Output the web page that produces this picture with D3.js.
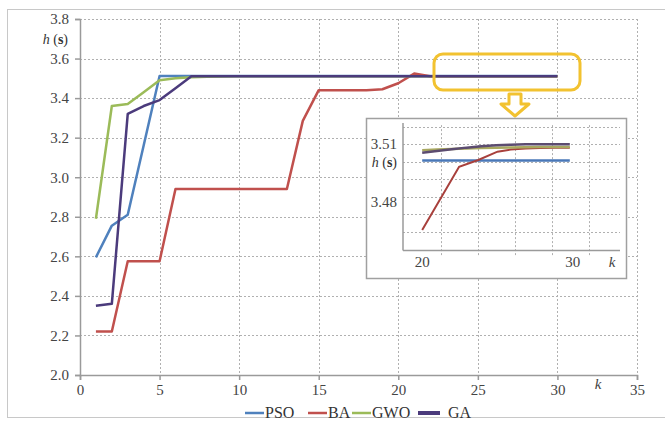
<!DOCTYPE html>
<html>
<head>
<meta charset="utf-8">
<script src="https://cdn.jsdelivr.net/npm/d3@7"></script>
<style>
  body { margin: 0; background: #fff; }
  svg { display: block; }
</style>
</head>
<body>
<div id="chart"></div>
<script>
// iterations k and convergence values h(s) per algorithm
var kValues = [1, 2, 3, 4, 5, 6, 7, 8, 9, 10, 11, 12, 13, 14, 15, 16, 17, 18, 19, 20, 21, 22, 23, 24, 25, 26, 27, 28, 29, 30];
var psoValues = [2.595, 2.755, 2.81, 3.16, 3.512, 3.512, 3.512, 3.512, 3.512, 3.512, 3.512, 3.512, 3.512, 3.512, 3.512, 3.512, 3.512, 3.512, 3.512, 3.512, 3.512, 3.512, 3.512, 3.512, 3.512, 3.512, 3.512, 3.512, 3.512, 3.512];
var baValues = [2.22, 2.22, 2.575, 2.575, 2.575, 2.94, 2.94, 2.94, 2.94, 2.94, 2.94, 2.94, 2.94, 3.285, 3.44, 3.44, 3.44, 3.44, 3.445, 3.475, 3.524, 3.51, 3.51, 3.51, 3.51, 3.51, 3.51, 3.51, 3.51, 3.51];
var gwoValues = [2.79, 3.36, 3.37, 3.43, 3.49, 3.5, 3.506, 3.508, 3.509, 3.51, 3.51, 3.51, 3.51, 3.51, 3.51, 3.51, 3.51, 3.51, 3.51, 3.51, 3.51, 3.51, 3.51, 3.51, 3.51, 3.51, 3.51, 3.51, 3.51, 3.51];
var gaValues = [2.35, 2.36, 3.32, 3.36, 3.39, 3.45, 3.51, 3.51, 3.51, 3.51, 3.51, 3.51, 3.51, 3.51, 3.51, 3.51, 3.51, 3.51, 3.51, 3.51, 3.51, 3.51, 3.51, 3.51, 3.51, 3.51, 3.51, 3.51, 3.51, 3.51];

var seriesNames = ["PSO", "BA", "GWO", "GA"];
var seriesColors = ["#4f81bd", "#c0504d", "#9bbb59", "#4b3b7c"];
var insetColors = ["#4a78b8", "#a8403c", "#a8a860", "#5c4c70"];

var xTicks = [0, 5, 10, 15, 20, 25, 30, 35];
var yTicks = [2.0, 2.2, 2.4, 2.6, 2.8, 3.0, 3.2, 3.4, 3.6, 3.8];

// zoomed detail, k = 20..30
var insetK = [20, 21, 22, 23, 24, 25, 26, 27, 28, 29, 30];
var insetBaK = [20, 22.5, 23.8, 25.1, 26, 27, 28, 29, 30];
var insetPso = [3.5023, 3.5023, 3.5023, 3.5023, 3.5023, 3.5023, 3.5023, 3.5023, 3.5023, 3.5023, 3.5023];
var insetBa = [3.4696, 3.4994, 3.5026, 3.5065, 3.5075, 3.508, 3.5082, 3.5083, 3.5083];
var insetGwo = [3.5072, 3.5075, 3.5078, 3.508, 3.5082, 3.5084, 3.5085, 3.5086, 3.5087, 3.5087, 3.5087];
var insetGa = [3.506, 3.5068, 3.5076, 3.5084, 3.509, 3.5095, 3.5098, 3.51, 3.51, 3.51, 3.51];
var insetYLabels = [3.51, 3.48];
var insetXLabels = [20, 30];
var insetYGrid = [3.51825, 3.51, 3.50175, 3.4935, 3.48525, 3.477, 3.46875];
var insetXGrid = [21.3, 23.8, 26.3, 28.8, 31.3];

var width = 665, height = 425;
var serif = "'Liberation Serif', serif";

var svg = d3.select("#chart").append("svg")
  .attr("width", width)
  .attr("height", height)
  .style("font-family", serif);

svg.append("rect")
  .attr("x", 7.5).attr("y", 9.5)
  .attr("width", 670).attr("height", 408)
  .attr("fill", "#fff")
  .attr("stroke", "#c8c8c8");

var x = d3.scaleLinear().domain([0, 35]).range([80, 637]);
var y = d3.scaleLinear().domain([2.0, 3.8]).range([375, 19]);

/** grid */
var grid = svg.append("g").attr("stroke", "#b0b0b0").attr("stroke-dasharray", "2,2").attr("stroke-width", 1);
grid.selectAll(".hg").data(yTicks.slice(1)).enter().append("line")
  .attr("x1", x(0)).attr("x2", x(35))
  .attr("y1", function(d) { return Math.round(y(d)) + 0.5; })
  .attr("y2", function(d) { return Math.round(y(d)) + 0.5; });
grid.selectAll(".vg").data(xTicks.slice(1)).enter().append("line")
  .attr("y1", y(3.8)).attr("y2", y(2.0))
  .attr("x1", function(d) { return Math.round(x(d)) + 0.5; })
  .attr("x2", function(d) { return Math.round(x(d)) + 0.5; });

/** axes */
var xAxis = svg.append("g")
  .attr("transform", "translate(0," + y(2.0) + ")")
  .call(d3.axisBottom(x).tickValues(xTicks).tickSize(5).tickPadding(4).tickFormat(d3.format("d")));
var yAxis = svg.append("g")
  .attr("transform", "translate(" + x(0) + ",0)")
  .call(d3.axisLeft(y).tickValues(yTicks).tickSize(5).tickPadding(6).tickFormat(d3.format(".1f")));
[xAxis, yAxis].forEach(function(a) {
  a.attr("font-family", null).attr("font-size", 15);
  a.select(".domain").attr("stroke", "#9a9a9a").attr("stroke-width", 1.5);
  a.selectAll(".tick line").attr("stroke", "#9a9a9a").attr("stroke-width", 1.5);
  a.selectAll(".tick text").attr("fill", "#444");
});

svg.append("text").attr("x", 68).attr("y", 44).attr("text-anchor", "end").attr("font-size", 14).attr("fill", "#333")
  .html('<tspan font-style="italic">h</tspan> (<tspan font-weight="bold">s</tspan>)');
svg.append("text").attr("x", 598).attr("y", 389).attr("text-anchor", "middle").attr("font-size", 15).attr("fill", "#444")
  .attr("font-style", "italic").text("k");

/** series lines */
var allSeries = [psoValues, baValues, gwoValues, gaValues];
var line = d3.line()
  .x(function(d, i) { return x(kValues[i]); })
  .y(function(d) { return y(d); });
svg.selectAll(".series").data(allSeries).enter().append("path")
  .attr("class", "series")
  .attr("d", line)
  .attr("fill", "none")
  .attr("stroke", function(d, i) { return seriesColors[i]; })
  .attr("stroke-width", 2.5)
  .attr("stroke-linejoin", "round");

/** highlight callout */
svg.append("rect")
  .attr("x", 434).attr("y", 54).attr("width", 146).attr("height", 36)
  .attr("rx", 9).attr("ry", 9)
  .attr("fill", "none").attr("stroke", "#f2c230").attr("stroke-width", 3);
svg.append("path")
  .attr("d", "M509,94 L521,94 L521,104 L529,104 L515,116 L501,104 L509,104 Z")
  .attr("fill", "#fff").attr("stroke", "#f2c230").attr("stroke-width", 3).attr("stroke-linejoin", "round");

/** inset */
var inset = svg.append("g");
inset.append("rect")
  .attr("x", 366.5).attr("y", 118.5).attr("width", 260).attr("height", 160)
  .attr("fill", "#fff").attr("stroke", "#a0a0a0").attr("stroke-width", 1.5);

var xIn = d3.scaleLinear().domain([18.7, 33.4]).range([403, 620]);
var yIn = d3.scaleLinear().domain([3.46, 3.52]).range([250.4, 123]);

var igrid = inset.append("g").attr("stroke", "#b0b0b0").attr("stroke-dasharray", "2,2");
igrid.selectAll(".ihg").data(insetYGrid).enter().append("line")
  .attr("x1", xIn(18.7)).attr("x2", xIn(33.4))
  .attr("y1", function(d) { return Math.round(yIn(d)) + 0.5; })
  .attr("y2", function(d) { return Math.round(yIn(d)) + 0.5; });
igrid.selectAll(".ivg").data(insetXGrid).enter().append("line")
  .attr("y1", yIn(3.519)).attr("y2", yIn(3.46) + 5)
  .attr("x1", function(d) { return Math.round(xIn(d)) + 0.5; })
  .attr("x2", function(d) { return Math.round(xIn(d)) + 0.5; });

inset.append("line")
  .attr("x1", xIn(18.7)).attr("x2", xIn(18.7)).attr("y1", yIn(3.52)).attr("y2", yIn(3.46))
  .attr("stroke", "#9a9a9a").attr("stroke-width", 1.5);
inset.append("line")
  .attr("x1", xIn(18.7)).attr("x2", xIn(33.4)).attr("y1", yIn(3.46)).attr("y2", yIn(3.46))
  .attr("stroke", "#9a9a9a").attr("stroke-width", 1.5);

inset.selectAll(".iyl").data(insetYLabels).enter().append("text")
  .attr("x", 397).attr("y", function(d, i) { return yIn(d) + (i === 0 ? 5 : -1); })
  .attr("text-anchor", "end").attr("font-size", 15).attr("fill", "#444")
  .text(function(d) { return d3.format(".2f")(d); });
inset.append("text").attr("x", 397).attr("y", 167).attr("text-anchor", "end").attr("font-size", 14).attr("fill", "#333")
  .html('<tspan font-style="italic">h</tspan> (<tspan font-weight="bold">s</tspan>)');
inset.selectAll(".ixl").data(insetXLabels).enter().append("text")
  .attr("x", function(d) { return xIn(d) + (d === 30 ? 3 : 0); }).attr("y", 267)
  .attr("text-anchor", "middle").attr("font-size", 15).attr("fill", "#444")
  .text(function(d) { return d; });
inset.append("text").attr("x", 612).attr("y", 267).attr("text-anchor", "middle").attr("font-size", 15).attr("fill", "#444")
  .attr("font-style", "italic").text("k");

var insetSeries = [
  { k: insetK, v: insetPso },
  { k: insetBaK, v: insetBa },
  { k: insetK, v: insetGwo },
  { k: insetK, v: insetGa }
];
inset.selectAll(".iseries").data(insetSeries).enter().append("path")
  .attr("d", function(s) {
    return d3.line()
      .x(function(d, i) { return xIn(s.k[i]); })
      .y(function(d) { return yIn(d); })(s.v);
  })
  .attr("fill", "none")
  .attr("stroke", function(d, i) { return insetColors[i]; })
  .attr("stroke-width", function(d, i) { return i === 1 ? 2 : 2.5; });

/** legend */
var legendX = [245, 308, 352, 418];
var legend = svg.append("g");
var items = legend.selectAll(".li").data(seriesNames).enter().append("g")
  .attr("transform", function(d, i) { return "translate(" + legendX[i] + ",413)"; });
items.append("line")
  .attr("x1", 0).attr("x2", function(d, i) { return i === 3 ? 22 : 19; })
  .attr("y1", 0).attr("y2", 0)
  .attr("stroke", function(d, i) { return seriesColors[i]; })
  .attr("stroke-width", function(d, i) { return i === 3 ? 4 : 2.5; });
items.append("text")
  .attr("x", function(d, i) { return i === 3 ? 30 : 20; }).attr("y", 5)
  .attr("font-size", 16).attr("fill", "#333")
  .text(function(d) { return d; });
</script>
</body>
</html>
